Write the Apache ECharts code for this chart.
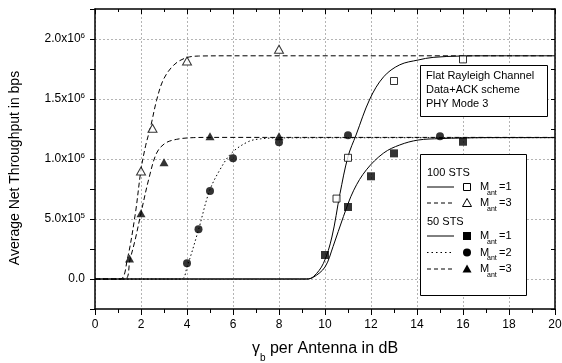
<!DOCTYPE html>
<html>
<head>
<meta charset="utf-8">
<script src="https://cdn.jsdelivr.net/npm/echarts@6.0.0/dist/echarts.min.js"></script>
<style>
  html, body { margin: 0; padding: 0; background: #fff; }
  #chart { width: 562px; height: 363px; }
</style>
</head>
<body>
<div id="chart"></div>
<script>
// fitted curves (x: gamma_b in dB, y: bps)
const fit100m1X = [0, 9.2, 9.5, 9.93, 10.3, 10.65, 11.0, 11.35, 11.95, 12.55, 13.25, 14.05, 14.7, 15.9, 17, 20];
const fit100m1Y = [0, 0, 0.02e6, 0.13e6, 0.35e6, 0.71e6, 1.02e6, 1.2e6, 1.5e6, 1.685e6, 1.785e6, 1.825e6, 1.847e6, 1.858e6, 1.86e6, 1.86e6];
const fit100m3X = [0, 1.1, 1.4, 1.75, 2.0, 2.2, 2.42, 2.68, 2.97, 3.41, 3.91, 4.5, 6, 20];
const fit100m3Y = [0, 0, 0.16e6, 0.54e6, 0.91e6, 1.11e6, 1.27e6, 1.49e6, 1.66e6, 1.78e6, 1.84e6, 1.858e6, 1.86e6, 1.86e6];
const fit50m1X = [0, 9.2, 9.5, 10.0, 10.35, 10.8, 11.25, 11.8, 12.55, 13.25, 14.05, 15, 16, 17, 20];
const fit50m1Y = [0, 0, 0.015e6, 0.1e6, 0.27e6, 0.52e6, 0.74e6, 0.91e6, 1.05e6, 1.117e6, 1.158e6, 1.17e6, 1.175e6, 1.178e6, 1.178e6];
const fit50m2X = [0, 3.75, 4.0, 4.5, 4.97, 5.43, 5.94, 6.67, 7.2, 8, 20];
const fit50m2Y = [0, 0, 0.1e6, 0.41e6, 0.73e6, 0.91e6, 1.05e6, 1.145e6, 1.168e6, 1.176e6, 1.178e6];
const fit50m3X = [0, 1.3, 1.52, 1.75, 2.0, 2.36, 2.68, 3.04, 3.55, 4.27, 5, 20];
const fit50m3Y = [0, 0, 0.16e6, 0.33e6, 0.55e6, 0.85e6, 1.05e6, 1.13e6, 1.164e6, 1.178e6, 1.18e6, 1.18e6];

// simulated points
const sq100X = [10.5, 11, 13, 16];
const sq100Y = [0.67e6, 1.01e6, 1.65e6, 1.83e6];
const tri100X = [2, 2.5, 4, 8];
const tri100Y = [0.9e6, 1.256e6, 1.817e6, 1.914e6];
const sq50X = [10, 11, 12, 13, 16];
const sq50Y = [0.2e6, 0.6e6, 0.856e6, 1.047e6, 1.144e6];
const dot50X = [4, 4.5, 5, 6, 8, 11, 15];
const dot50Y = [0.131e6, 0.414e6, 0.733e6, 1.006e6, 1.139e6, 1.197e6, 1.19e6];
const tri50X = [1.5, 2, 3, 5, 8];
const tri50Y = [0.17e6, 0.547e6, 0.972e6, 1.19e6, 1.19e6];

const yLabelValues = [0, 0.5e6, 1.0e6, 1.5e6, 2.0e6];

const FONT = '"Liberation Sans", Arial, Helvetica, sans-serif';

function pairs(xs, ys) {
  return xs.map((x, i) => [x, ys[i]]);
}

function yLabel(v) {
  if (v === 0) return '{m|0.0}';
  if (yLabelValues.indexOf(v) < 0) return '';
  const e = Math.floor(Math.log10(v));
  const m = (v / Math.pow(10, e)).toFixed(1);
  return '{m|' + m + 'x10}{s|' + e + '}';
}

function fitLine(name, xs, ys, type) {
  return {
    name: name, type: 'line', data: pairs(xs, ys),
    showSymbol: false, smooth: 0.35, silent: true, z: 2,
    lineStyle: { color: '#000', width: 1, type: type }
  };
}

function points(name, xs, ys, symbol, size, open) {
  return {
    name: name, type: 'scatter', data: pairs(xs, ys),
    symbol: symbol, symbolSize: size, z: 4,
    itemStyle: open ? { color: '#fff', borderColor: '#000', borderWidth: 1 } : { color: '#000' }
  };
}

// legend / note boxes
function txt(x, y, s, size) {
  return { type: 'text', z: 101, style: { x: x, y: y, text: s, fill: '#000', fontSize: size, fontFamily: FONT, align: 'left', verticalAlign: 'middle' } };
}
function sampleLine(y, dash) {
  return { type: 'line', z: 101, shape: { x1: 427, y1: y, x2: 454, y2: y }, style: { stroke: '#000', lineWidth: 1, lineDash: dash } };
}
function marker(kind, y) {
  const cx = 467;
  if (kind === 'osq') return { type: 'rect', z: 101, shape: { x: cx - 3.5, y: y - 3.5, width: 7, height: 7 }, style: { fill: '#fff', stroke: '#000', lineWidth: 1 } };
  if (kind === 'fsq') return { type: 'rect', z: 101, shape: { x: cx - 4, y: y - 4, width: 8, height: 8 }, style: { fill: '#000' } };
  if (kind === 'dot') return { type: 'circle', z: 101, shape: { cx: cx, cy: y, r: 4 }, style: { fill: '#000' } };
  const pts = [[cx, y - 4.5], [cx + 4.5, y + 3.5], [cx - 4.5, y + 3.5]];
  if (kind === 'otri') return { type: 'polygon', z: 101, shape: { points: pts }, style: { fill: '#fff', stroke: '#000', lineWidth: 1 } };
  return { type: 'polygon', z: 101, shape: { points: pts }, style: { fill: '#000' } };
}
function row(y, dash, kind, label) {
  return [sampleLine(y, dash), marker(kind, y), txt(480, y, 'M', 11), txt(487, y + 6, 'ant', 7), txt(499, y, label, 11)];
}

const graphics = [
  { type: 'rect', z: 100, shape: { x: 420.5, y: 65.5, width: 127, height: 51 }, style: { fill: '#fff', stroke: '#000', lineWidth: 1 } },
  txt(426, 76, 'Flat Rayleigh Channel', 11),
  txt(426, 89.5, 'Data+ACK scheme', 11),
  txt(426, 103.5, 'PHY Mode 3', 11),
  { type: 'rect', z: 100, shape: { x: 420.5, y: 154.5, width: 106, height: 141 }, style: { fill: '#fff', stroke: '#000', lineWidth: 1 } },
  txt(427, 173, '100 STS', 11),
  ...row(187, null, 'osq', '=1'),
  ...row(203, [4, 3], 'otri', '=3'),
  txt(427, 221.5, '50 STS', 11),
  ...row(236, null, 'fsq', '=1'),
  ...row(252.5, [1.5, 3], 'dot', '=2'),
  ...row(269, [4, 3], 'ftri', '=3')
];

const axisLineStyle = { color: '#000', width: 1.5 };
const tickStyle = { color: '#000', width: 1 };
const gridLine = { color: '#b4b4b4', width: 1, type: [2, 2] };

const option = {
  animation: false,
  textStyle: { fontFamily: FONT },
  grid: { left: 95, right: 7, top: 9, bottom: 54, outerBoundsMode: 'none' },
  xAxis: [
    {
      type: 'value', position: 'bottom', min: 0, max: 20, interval: 2,
      axisLine: { show: true, onZero: false, lineStyle: axisLineStyle },
      axisTick: { show: true, length: 6, lineStyle: tickStyle },
      minorTick: { show: true, splitNumber: 2, length: 4, lineStyle: tickStyle },
      axisLabel: { color: '#000', fontSize: 12, margin: 10, fontFamily: FONT },
      splitLine: { show: true, lineStyle: gridLine },
      name: '{g|γ}{s|b}{t| per Antenna in dB}',
      nameLocation: 'middle', nameGap: 26,
      nameTextStyle: {
        color: '#000', fontFamily: FONT, fontSize: 16,
        rich: {
          g: { fontSize: 16, color: '#000', fontFamily: FONT },
          s: { fontSize: 10, color: '#000', fontFamily: FONT, verticalAlign: 'bottom', lineHeight: 28 },
          t: { fontSize: 16, color: '#000', fontFamily: FONT }
        }
      }
    },
    {
      type: 'value', position: 'top', min: 0, max: 20, interval: 2,
      axisLine: { show: true, onZero: false, lineStyle: axisLineStyle },
      axisTick: { show: true, inside: true, length: 5, lineStyle: tickStyle },
      minorTick: { show: true, splitNumber: 2, length: 3, lineStyle: tickStyle },
      axisLabel: { show: false },
      splitLine: { show: false }
    }
  ],
  yAxis: [
    {
      type: 'value', position: 'left', min: -0.25e6, max: 2.25e6, interval: 0.25e6,
      axisLine: { show: true, onZero: false, lineStyle: axisLineStyle },
      axisTick: { show: true, length: 5, lineStyle: tickStyle },
      axisLabel: {
        color: '#000', margin: 10, formatter: yLabel,
        rich: {
          m: { fontSize: 12, lineHeight: 14, color: '#000', fontFamily: FONT },
          s: { fontSize: 8, verticalAlign: 'top', color: '#000', fontFamily: FONT }
        }
      },
      splitLine: { show: true, lineStyle: { color: ['rgba(0,0,0,0)', '#b4b4b4'], width: 1, type: [2, 2] } },
      name: 'Average Net Throughput in bps',
      nameLocation: 'middle', nameGap: 73,
      nameTextStyle: { color: '#000', fontSize: 14, fontFamily: FONT, padding: [0, 18, 0, 0] }
    },
    {
      type: 'value', position: 'right', min: -0.25e6, max: 2.25e6, interval: 0.25e6,
      axisLine: { show: true, onZero: false, lineStyle: axisLineStyle },
      axisTick: { show: true, inside: true, length: 4, lineStyle: tickStyle },
      axisLabel: { show: false },
      splitLine: { show: false }
    }
  ],
  graphic: graphics,
  series: [
    fitLine('fit 100 STS M1', fit100m1X, fit100m1Y, 'solid'),
    fitLine('fit 100 STS M3', fit100m3X, fit100m3Y, [5, 3]),
    fitLine('fit 50 STS M1', fit50m1X, fit50m1Y, 'solid'),
    fitLine('fit 50 STS M2', fit50m2X, fit50m2Y, [1.5, 2.5]),
    fitLine('fit 50 STS M3', fit50m3X, fit50m3Y, [5, 3]),
    points('100 STS M_ant=1', sq100X, sq100Y, 'rect', 7, true),
    points('100 STS M_ant=3', tri100X, tri100Y, 'triangle', [9, 8], true),
    points('50 STS M_ant=1', sq50X, sq50Y, 'rect', 8, false),
    points('50 STS M_ant=2', dot50X, dot50Y, 'circle', 8, false),
    points('50 STS M_ant=3', tri50X, tri50Y, 'triangle', [9, 8], false)
  ]
};

const chart = echarts.init(document.getElementById('chart'));
chart.setOption(option);
</script>
</body>
</html>
